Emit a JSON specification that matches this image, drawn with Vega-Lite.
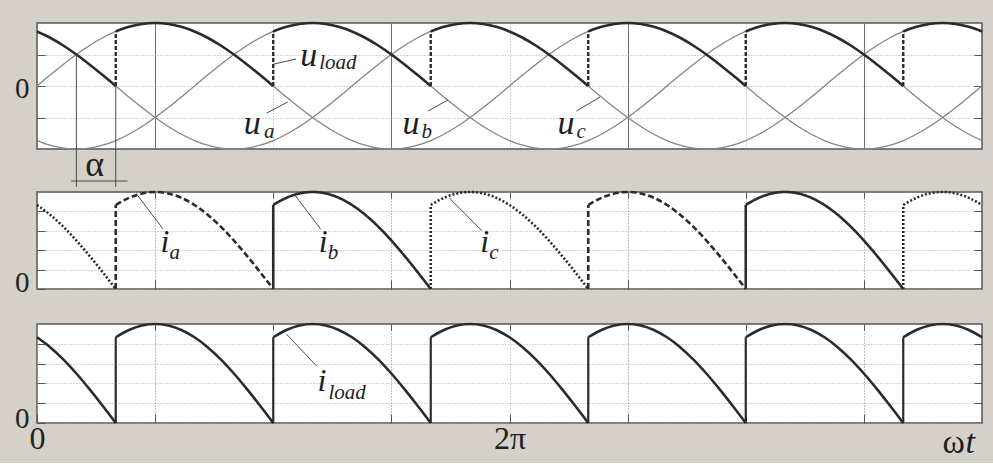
{
  "$schema": "https://vega.github.io/schema/vega-lite/v6.json",
  "background": "#d5d1ca",
  "padding": {"left": 13, "top": 17, "right": 5, "bottom": 2},
  "config": {
    "view": {"stroke": "#555555", "strokeWidth": 1.5, "fill": "#ffffff"},
    "axis": {"domain": false, "title": null, "labelOverlap": false, "labelBound": false},
    "text": {"font": "Liberation Serif"}
  },
  "datasets": {
    "ph": [
      {"t":0,"a":0,"b":-0.866,"c":0.866},{"t":10,"a":0.174,"b":-0.94,"c":0.766},{"t":20,"a":0.342,"b":-0.985,"c":0.643},
      {"t":30,"a":0.5,"b":-1,"c":0.5},{"t":40,"a":0.643,"b":-0.985,"c":0.342},{"t":50,"a":0.766,"b":-0.94,"c":0.174},
      {"t":60,"a":0.866,"b":-0.866,"c":0},{"t":70,"a":0.94,"b":-0.766,"c":-0.174},{"t":80,"a":0.985,"b":-0.643,"c":-0.342},
      {"t":90,"a":1,"b":-0.5,"c":-0.5},{"t":100,"a":0.985,"b":-0.342,"c":-0.643},{"t":110,"a":0.94,"b":-0.174,"c":-0.766},
      {"t":120,"a":0.866,"b":0,"c":-0.866},{"t":130,"a":0.766,"b":0.174,"c":-0.94},{"t":140,"a":0.643,"b":0.342,"c":-0.985},
      {"t":150,"a":0.5,"b":0.5,"c":-1},{"t":160,"a":0.342,"b":0.643,"c":-0.985},{"t":170,"a":0.174,"b":0.766,"c":-0.94},
      {"t":180,"a":0,"b":0.866,"c":-0.866},{"t":190,"a":-0.174,"b":0.94,"c":-0.766},{"t":200,"a":-0.342,"b":0.985,"c":-0.643},
      {"t":210,"a":-0.5,"b":1,"c":-0.5},{"t":220,"a":-0.643,"b":0.985,"c":-0.342},{"t":230,"a":-0.766,"b":0.94,"c":-0.174},
      {"t":240,"a":-0.866,"b":0.866,"c":0},{"t":250,"a":-0.94,"b":0.766,"c":0.174},{"t":260,"a":-0.985,"b":0.643,"c":0.342},
      {"t":270,"a":-1,"b":0.5,"c":0.5},{"t":280,"a":-0.985,"b":0.342,"c":0.643},{"t":290,"a":-0.94,"b":0.174,"c":0.766},
      {"t":300,"a":-0.866,"b":0,"c":0.866},{"t":310,"a":-0.766,"b":-0.174,"c":0.94},{"t":320,"a":-0.643,"b":-0.342,"c":0.985},
      {"t":330,"a":-0.5,"b":-0.5,"c":1},{"t":340,"a":-0.342,"b":-0.643,"c":0.985},{"t":350,"a":-0.174,"b":-0.766,"c":0.94},
      {"t":360,"a":0,"b":-0.866,"c":0.866},{"t":370,"a":0.174,"b":-0.94,"c":0.766},{"t":380,"a":0.342,"b":-0.985,"c":0.643},
      {"t":390,"a":0.5,"b":-1,"c":0.5},{"t":400,"a":0.643,"b":-0.985,"c":0.342},{"t":410,"a":0.766,"b":-0.94,"c":0.174},
      {"t":420,"a":0.866,"b":-0.866,"c":0},{"t":430,"a":0.94,"b":-0.766,"c":-0.174},{"t":440,"a":0.985,"b":-0.643,"c":-0.342},
      {"t":450,"a":1,"b":-0.5,"c":-0.5},{"t":460,"a":0.985,"b":-0.342,"c":-0.643},{"t":470,"a":0.94,"b":-0.174,"c":-0.766},
      {"t":480,"a":0.866,"b":0,"c":-0.866},{"t":490,"a":0.766,"b":0.174,"c":-0.94},{"t":500,"a":0.643,"b":0.342,"c":-0.985},
      {"t":510,"a":0.5,"b":0.5,"c":-1},{"t":520,"a":0.342,"b":0.643,"c":-0.985},{"t":530,"a":0.174,"b":0.766,"c":-0.94},
      {"t":540,"a":0,"b":0.866,"c":-0.866},{"t":550,"a":-0.174,"b":0.94,"c":-0.766},{"t":560,"a":-0.342,"b":0.985,"c":-0.643},
      {"t":570,"a":-0.5,"b":1,"c":-0.5},{"t":580,"a":-0.643,"b":0.985,"c":-0.342},{"t":590,"a":-0.766,"b":0.94,"c":-0.174},
      {"t":600,"a":-0.866,"b":0.866,"c":0},{"t":610,"a":-0.94,"b":0.766,"c":0.174},{"t":620,"a":-0.985,"b":0.643,"c":0.342},
      {"t":630,"a":-1,"b":0.5,"c":0.5},{"t":640,"a":-0.985,"b":0.342,"c":0.643},{"t":650,"a":-0.94,"b":0.174,"c":0.766},
      {"t":660,"a":-0.866,"b":0,"c":0.866},{"t":670,"a":-0.766,"b":-0.174,"c":0.94},{"t":680,"a":-0.643,"b":-0.342,"c":0.985},
      {"t":690,"a":-0.5,"b":-0.5,"c":1},{"t":700,"a":-0.342,"b":-0.643,"c":0.985},{"t":710,"a":-0.174,"b":-0.766,"c":0.94},
      {"t":720,"a":0,"b":-0.866,"c":0.866}
    ],
    "ld": [
      {"t":0,"v":0.866,"p":"c","s":0},{"t":10,"v":0.766,"p":"c","s":0},{"t":20,"v":0.643,"p":"c","s":0},{"t":30,"v":0.5,"p":"c","s":0},
      {"t":40,"v":0.342,"p":"c","s":0},{"t":50,"v":0.174,"p":"c","s":0},{"t":60,"v":0,"p":"c","s":0},
      {"t":60,"v":0.866,"p":"a","s":1},{"t":70,"v":0.94,"p":"a","s":1},{"t":80,"v":0.985,"p":"a","s":1},{"t":90,"v":1,"p":"a","s":1},
      {"t":100,"v":0.985,"p":"a","s":1},{"t":110,"v":0.94,"p":"a","s":1},{"t":120,"v":0.866,"p":"a","s":1},{"t":130,"v":0.766,"p":"a","s":1},
      {"t":140,"v":0.643,"p":"a","s":1},{"t":150,"v":0.5,"p":"a","s":1},{"t":160,"v":0.342,"p":"a","s":1},{"t":170,"v":0.174,"p":"a","s":1},
      {"t":180,"v":0,"p":"a","s":1},
      {"t":180,"v":0.866,"p":"b","s":2},{"t":190,"v":0.94,"p":"b","s":2},{"t":200,"v":0.985,"p":"b","s":2},{"t":210,"v":1,"p":"b","s":2},
      {"t":220,"v":0.985,"p":"b","s":2},{"t":230,"v":0.94,"p":"b","s":2},{"t":240,"v":0.866,"p":"b","s":2},{"t":250,"v":0.766,"p":"b","s":2},
      {"t":260,"v":0.643,"p":"b","s":2},{"t":270,"v":0.5,"p":"b","s":2},{"t":280,"v":0.342,"p":"b","s":2},{"t":290,"v":0.174,"p":"b","s":2},
      {"t":300,"v":0,"p":"b","s":2},
      {"t":300,"v":0.866,"p":"c","s":3},{"t":310,"v":0.94,"p":"c","s":3},{"t":320,"v":0.985,"p":"c","s":3},{"t":330,"v":1,"p":"c","s":3},
      {"t":340,"v":0.985,"p":"c","s":3},{"t":350,"v":0.94,"p":"c","s":3},{"t":360,"v":0.866,"p":"c","s":3},{"t":370,"v":0.766,"p":"c","s":3},
      {"t":380,"v":0.643,"p":"c","s":3},{"t":390,"v":0.5,"p":"c","s":3},{"t":400,"v":0.342,"p":"c","s":3},{"t":410,"v":0.174,"p":"c","s":3},
      {"t":420,"v":0,"p":"c","s":3},
      {"t":420,"v":0.866,"p":"a","s":4},{"t":430,"v":0.94,"p":"a","s":4},{"t":440,"v":0.985,"p":"a","s":4},{"t":450,"v":1,"p":"a","s":4},
      {"t":460,"v":0.985,"p":"a","s":4},{"t":470,"v":0.94,"p":"a","s":4},{"t":480,"v":0.866,"p":"a","s":4},{"t":490,"v":0.766,"p":"a","s":4},
      {"t":500,"v":0.643,"p":"a","s":4},{"t":510,"v":0.5,"p":"a","s":4},{"t":520,"v":0.342,"p":"a","s":4},{"t":530,"v":0.174,"p":"a","s":4},
      {"t":540,"v":0,"p":"a","s":4},
      {"t":540,"v":0.866,"p":"b","s":5},{"t":550,"v":0.94,"p":"b","s":5},{"t":560,"v":0.985,"p":"b","s":5},{"t":570,"v":1,"p":"b","s":5},
      {"t":580,"v":0.985,"p":"b","s":5},{"t":590,"v":0.94,"p":"b","s":5},{"t":600,"v":0.866,"p":"b","s":5},{"t":610,"v":0.766,"p":"b","s":5},
      {"t":620,"v":0.643,"p":"b","s":5},{"t":630,"v":0.5,"p":"b","s":5},{"t":640,"v":0.342,"p":"b","s":5},{"t":650,"v":0.174,"p":"b","s":5},
      {"t":660,"v":0,"p":"b","s":5},
      {"t":660,"v":0.866,"p":"c","s":6},{"t":670,"v":0.94,"p":"c","s":6},{"t":680,"v":0.985,"p":"c","s":6},{"t":690,"v":1,"p":"c","s":6},
      {"t":700,"v":0.985,"p":"c","s":6},{"t":710,"v":0.94,"p":"c","s":6},{"t":720,"v":0.866,"p":"c","s":6}
    ],
    "jp": [
      {"t":60,"p":"a","lo":0,"hi":0.866},{"t":180,"p":"b","lo":0,"hi":0.866},{"t":300,"p":"c","lo":0,"hi":0.866},
      {"t":420,"p":"a","lo":0,"hi":0.866},{"t":540,"p":"b","lo":0,"hi":0.866},{"t":660,"p":"c","lo":0,"hi":0.866}
    ],
    "ln": [
      {"panel":"top","t":180.6,"v":0.349,"t2":197.4,"v2":0.429},
      {"panel":"top","t":175,"v":-0.43,"t2":191,"v2":-0.254},
      {"panel":"top","t":298,"v":-0.397,"t2":313,"v2":-0.222},
      {"panel":"top","t":411,"v":-0.397,"t2":429,"v2":-0.175},
      {"panel":"top","t":30,"v":0.5,"t2":30,"v2":-1.6},
      {"panel":"top","t":60,"v":0,"t2":60,"v2":-1.6},
      {"panel":"top","t":26,"v":-1.508,"t2":69,"v2":-1.508},
      {"panel":"mid","t":77,"v":0.959,"t2":96,"v2":0.619},
      {"panel":"mid","t":197,"v":0.959,"t2":216,"v2":0.619},
      {"panel":"mid","t":314,"v":0.94,"t2":339,"v2":0.6},
      {"panel":"bot","t":190,"v":0.899,"t2":213,"v2":0.576}
    ],
    "nt": [
      {"panel":"top","kind":"main","t":207,"v":0.317,"txt":"u"},
      {"panel":"top","kind":"sub","t":215,"v":0.27,"txt":"load"},
      {"panel":"top","kind":"main","t":164,"v":-0.762,"txt":"u"},
      {"panel":"top","kind":"sub","t":173,"v":-0.825,"txt":"a"},
      {"panel":"top","kind":"main","t":285,"v":-0.762,"txt":"u"},
      {"panel":"top","kind":"sub","t":293,"v":-0.825,"txt":"b"},
      {"panel":"top","kind":"main","t":403,"v":-0.762,"txt":"u"},
      {"panel":"top","kind":"sub","t":411,"v":-0.825,"txt":"c"},
      {"panel":"top","kind":"plain","t":44,"v":-1.43,"txt":"α"},
      {"panel":"mid","kind":"main","t":97.5,"v":0.381,"txt":"i"},
      {"panel":"mid","kind":"sub","t":101,"v":0.309,"txt":"a"},
      {"panel":"mid","kind":"main","t":218,"v":0.381,"txt":"i"},
      {"panel":"mid","kind":"sub","t":221.5,"v":0.309,"txt":"b"},
      {"panel":"mid","kind":"main","t":341,"v":0.381,"txt":"i"},
      {"panel":"mid","kind":"sub","t":344.5,"v":0.309,"txt":"c"},
      {"panel":"bot","kind":"main","t":217,"v":0.323,"txt":"i"},
      {"panel":"bot","kind":"sub","t":222,"v":0.242,"txt":"load"},
      {"panel":"bot","kind":"omega","t":707,"v":-0.3,"txt":"ω"},
      {"panel":"bot","kind":"tee","t":707.5,"v":-0.3,"txt":"t"}
    ]
  },
  "spacing": 43,
  "bounds": "flush",
  "vconcat": [
    {
      "width": 945,
      "height": 126,
      "resolve": {"axis": {"x": "independent", "y": "independent"}},
      "layer": [
        {
          "data": {"name": "ph"},
          "mark": {"type": "line", "interpolate": "monotone", "color": "#858585", "strokeWidth": 1.3},
          "encoding": {
            "x": {"field": "t", "type": "quantitative", "scale": {"domain": [0, 720], "nice": false, "zero": false},
              "axis": {"orient": "bottom", "values": [90, 180, 270, 360, 450, 540, 630], "labels": false, "ticks": false, "grid": true,
                "gridColor": {"condition": {"test": "datum.value % 180 === 90", "value": "#707070"}, "value": "#a8a8a8"},
                "gridDash": {"condition": {"test": "datum.value % 180 === 90", "value": []}, "value": [1, 2]},
                "gridWidth": 1}},
            "y": {"field": "a", "type": "quantitative", "scale": {"domain": [-1, 1], "nice": false, "zero": false},
              "axis": {"orient": "left", "values": [-0.5, 0, 0.5], "grid": true, "gridColor": "#a8a8a8", "gridDash": [1, 2],
                "ticks": true, "tickSize": -8, "tickColor": "#555555", "tickWidth": 1,
                "labelExpr": "datum.value === 0 ? '0' : ''", "labelFont": "Liberation Serif", "labelFontSize": 29,
                "labelColor": "#222222", "labelPadding": 16, "labelOffset": 2}}
          }
        },
        {
          "data": {"name": "ph"},
          "mark": {"type": "line", "interpolate": "monotone", "color": "#858585", "strokeWidth": 1.3},
          "encoding": {
            "x": {"field": "t", "type": "quantitative", "axis": null},
            "y": {"field": "b", "type": "quantitative",
              "axis": {"orient": "right", "values": [-0.5, 0, 0.5], "grid": false, "labels": false, "ticks": true, "tickSize": -8, "tickColor": "#555555", "tickWidth": 1}}
          }
        },
        {
          "data": {"name": "ph"},
          "mark": {"type": "line", "interpolate": "monotone", "color": "#858585", "strokeWidth": 1.3},
          "encoding": {
            "x": {"field": "t", "type": "quantitative", "axis": null},
            "y": {"field": "c", "type": "quantitative", "axis": null}
          }
        },
        {
          "data": {"name": "ld"},
          "mark": {"type": "line", "interpolate": "monotone", "color": "#2b2b2b", "strokeWidth": 2.6},
          "encoding": {
            "x": {"field": "t", "type": "quantitative", "axis": null},
            "y": {"field": "v", "type": "quantitative", "axis": null},
            "detail": {"field": "s", "type": "nominal"}
          }
        },
        {
          "data": {"name": "jp"},
          "mark": {"type": "rule", "color": "#2b2b2b", "strokeWidth": 2.4, "strokeDash": [4, 2]},
          "encoding": {
            "x": {"field": "t", "type": "quantitative", "axis": null},
            "y": {"field": "lo", "type": "quantitative", "axis": null},
            "y2": {"field": "hi"}
          }
        },
        {
          "data": {"name": "ln"},
          "transform": [{"filter": "datum.panel === 'top'"}],
          "mark": {"type": "rule", "color": "#4a4a4a", "strokeWidth": 1},
          "encoding": {
            "x": {"field": "t", "type": "quantitative", "axis": null},
            "x2": {"field": "t2"},
            "y": {"field": "v", "type": "quantitative", "axis": null},
            "y2": {"field": "v2"}
          }
        },
        {
          "data": {"name": "nt"},
          "transform": [{"filter": "datum.panel === 'top' && datum.kind === 'main'"}],
          "mark": {"type": "text", "font": "Liberation Serif", "fontStyle": "italic", "fontSize": 34, "align": "center", "baseline": "alphabetic", "color": "#1e1e1e"},
          "encoding": {
            "x": {"field": "t", "type": "quantitative", "axis": null},
            "y": {"field": "v", "type": "quantitative", "axis": null},
            "text": {"field": "txt"}
          }
        },
        {
          "data": {"name": "nt"},
          "transform": [{"filter": "datum.panel === 'top' && datum.kind === 'sub'"}],
          "mark": {"type": "text", "font": "Liberation Serif", "fontStyle": "italic", "fontSize": 21, "align": "left", "baseline": "alphabetic", "color": "#1e1e1e"},
          "encoding": {
            "x": {"field": "t", "type": "quantitative", "axis": null},
            "y": {"field": "v", "type": "quantitative", "axis": null},
            "text": {"field": "txt"}
          }
        },
        {
          "data": {"name": "nt"},
          "transform": [{"filter": "datum.panel === 'top' && datum.kind === 'plain'"}],
          "mark": {"type": "text", "font": "Liberation Serif", "fontSize": 36, "align": "center", "baseline": "alphabetic", "color": "#1e1e1e"},
          "encoding": {
            "x": {"field": "t", "type": "quantitative", "axis": null},
            "y": {"field": "v", "type": "quantitative", "axis": null},
            "text": {"field": "txt"}
          }
        }
      ]
    },
    {
      "spacing": 35,
      "bounds": "flush",
      "vconcat": [
        {
          "width": 945,
          "height": 97,
          "resolve": {"axis": {"x": "independent", "y": "independent"}},
          "layer": [
            {
              "data": {"name": "ld"},
              "mark": {"type": "line", "interpolate": "monotone", "color": "#2b2b2b"},
              "encoding": {
                "x": {"field": "t", "type": "quantitative", "scale": {"domain": [0, 720], "nice": false, "zero": false},
                  "axis": {"orient": "bottom", "values": [90, 180, 270, 360, 450, 540, 630], "labels": false, "ticks": true, "tickSize": -9, "tickColor": "#555555", "tickWidth": 1,
                    "grid": true, "gridColor": {"condition": {"test": "datum.value % 180 === 90", "value": "#7a7a7a"}, "value": "#a8a8a8"}, "gridDash": [1, 2]}},
                "y": {"field": "v", "type": "quantitative", "scale": {"domain": [0, 1], "nice": false, "zero": false},
                  "axis": {"orient": "left", "values": [0, 0.2, 0.4, 0.6, 0.8], "grid": true, "gridColor": "#a8a8a8", "gridDash": [1, 2],
                    "ticks": true, "tickSize": -8, "tickColor": "#555555", "tickWidth": 1,
                    "labelExpr": "datum.value === 0 ? '0' : ''", "labelFont": "Liberation Serif", "labelFontSize": 29,
                    "labelColor": "#222222", "labelPadding": 16, "labelOffset": -7}},
                "detail": {"field": "s", "type": "nominal"},
                "strokeDash": {"field": "p", "type": "nominal", "scale": {"domain": ["a", "b", "c"], "range": [[6, 3], [1, 0], [2, 2]]}, "legend": null},
                "strokeWidth": {"field": "p", "type": "nominal", "scale": {"domain": ["a", "b", "c"], "range": [2.6, 2.6, 2.1]}, "legend": null}
              }
            },
            {
              "data": {"name": "jp"},
              "mark": {"type": "rule", "color": "#2b2b2b"},
              "encoding": {
                "x": {"field": "t", "type": "quantitative",
                  "axis": {"orient": "top", "values": [90, 180, 270, 360, 450, 540, 630], "labels": false, "grid": false, "ticks": true, "tickSize": -6, "tickColor": "#555555", "tickWidth": 1}},
                "y": {"field": "lo", "type": "quantitative",
                  "axis": {"orient": "right", "values": [0.2, 0.4, 0.6, 0.8], "grid": false, "labels": false, "ticks": true, "tickSize": -8, "tickColor": "#555555", "tickWidth": 1}},
                "y2": {"field": "hi"},
                "strokeDash": {"field": "p", "type": "nominal", "scale": {"domain": ["a", "b", "c"], "range": [[6, 3], [1, 0], [2, 2]]}, "legend": null},
                "strokeWidth": {"field": "p", "type": "nominal", "scale": {"domain": ["a", "b", "c"], "range": [2.6, 2.6, 2.1]}, "legend": null}
              }
            },
            {
              "data": {"name": "ln"},
              "transform": [{"filter": "datum.panel === 'mid'"}],
              "mark": {"type": "rule", "color": "#4a4a4a", "strokeWidth": 1},
              "encoding": {
                "x": {"field": "t", "type": "quantitative", "axis": null},
                "x2": {"field": "t2"},
                "y": {"field": "v", "type": "quantitative", "axis": null},
                "y2": {"field": "v2"}
              }
            },
            {
              "data": {"name": "nt"},
              "transform": [{"filter": "datum.panel === 'mid' && datum.kind === 'main'"}],
              "mark": {"type": "text", "font": "Liberation Serif", "fontStyle": "italic", "fontSize": 32, "align": "center", "baseline": "alphabetic", "color": "#1e1e1e"},
              "encoding": {
                "x": {"field": "t", "type": "quantitative", "axis": null},
                "y": {"field": "v", "type": "quantitative", "axis": null},
                "text": {"field": "txt"}
              }
            },
            {
              "data": {"name": "nt"},
              "transform": [{"filter": "datum.panel === 'mid' && datum.kind === 'sub'"}],
              "mark": {"type": "text", "font": "Liberation Serif", "fontStyle": "italic", "fontSize": 21, "align": "left", "baseline": "alphabetic", "color": "#1e1e1e"},
              "encoding": {
                "x": {"field": "t", "type": "quantitative", "axis": null},
                "y": {"field": "v", "type": "quantitative", "axis": null},
                "text": {"field": "txt"}
              }
            }
          ]
        },
        {
          "width": 945,
          "height": 99,
          "resolve": {"axis": {"x": "independent", "y": "independent"}},
          "layer": [
            {
              "data": {"name": "ld"},
              "mark": {"type": "line", "interpolate": "monotone", "color": "#2b2b2b", "strokeWidth": 2.6},
              "encoding": {
                "x": {"field": "t", "type": "quantitative", "scale": {"domain": [0, 720], "nice": false, "zero": false},
                  "axis": {"orient": "bottom", "values": [0, 90, 180, 270, 360, 450, 540, 630], "ticks": true, "tickSize": -9, "tickColor": "#555555", "tickWidth": 1,
                    "grid": true, "gridColor": {"condition": {"test": "datum.value % 180 === 90", "value": "#7a7a7a"}, "value": "#a8a8a8"}, "gridDash": [1, 2],
                    "labelExpr": "datum.value === 0 ? '0' : datum.value === 360 ? '2π' : ''", "labelFlush": false,
                    "labelFont": "Liberation Serif", "labelFontSize": 32, "labelColor": "#222222", "labelPadding": 9}},
                "y": {"field": "v", "type": "quantitative", "scale": {"domain": [0, 1], "nice": false, "zero": false},
                  "axis": {"orient": "left", "values": [0, 0.2, 0.4, 0.6, 0.8], "grid": true, "gridColor": "#a8a8a8", "gridDash": [1, 2],
                    "ticks": true, "tickSize": -8, "tickColor": "#555555", "tickWidth": 1,
                    "labelExpr": "datum.value === 0 ? '0' : ''", "labelFont": "Liberation Serif", "labelFontSize": 29,
                    "labelColor": "#222222", "labelPadding": 16, "labelOffset": -5}},
                "detail": {"field": "s", "type": "nominal"}
              }
            },
            {
              "data": {"name": "jp"},
              "mark": {"type": "rule", "color": "#2b2b2b", "strokeWidth": 2.2},
              "encoding": {
                "x": {"field": "t", "type": "quantitative",
                  "axis": {"orient": "top", "values": [90, 180, 270, 360, 450, 540, 630], "labels": false, "grid": false, "ticks": true, "tickSize": -6, "tickColor": "#555555", "tickWidth": 1}},
                "y": {"field": "lo", "type": "quantitative",
                  "axis": {"orient": "right", "values": [0.2, 0.4, 0.6, 0.8], "grid": false, "labels": false, "ticks": true, "tickSize": -8, "tickColor": "#555555", "tickWidth": 1}},
                "y2": {"field": "hi"}
              }
            },
            {
              "data": {"name": "ln"},
              "transform": [{"filter": "datum.panel === 'bot'"}],
              "mark": {"type": "rule", "color": "#4a4a4a", "strokeWidth": 1},
              "encoding": {
                "x": {"field": "t", "type": "quantitative", "axis": null},
                "x2": {"field": "t2"},
                "y": {"field": "v", "type": "quantitative", "axis": null},
                "y2": {"field": "v2"}
              }
            },
            {
              "data": {"name": "nt"},
              "transform": [{"filter": "datum.panel === 'bot' && datum.kind === 'main'"}],
              "mark": {"type": "text", "font": "Liberation Serif", "fontStyle": "italic", "fontSize": 32, "align": "center", "baseline": "alphabetic", "color": "#1e1e1e"},
              "encoding": {
                "x": {"field": "t", "type": "quantitative", "axis": null},
                "y": {"field": "v", "type": "quantitative", "axis": null},
                "text": {"field": "txt"}
              }
            },
            {
              "data": {"name": "nt"},
              "transform": [{"filter": "datum.panel === 'bot' && datum.kind === 'sub'"}],
              "mark": {"type": "text", "font": "Liberation Serif", "fontStyle": "italic", "fontSize": 21, "align": "left", "baseline": "alphabetic", "color": "#1e1e1e"},
              "encoding": {
                "x": {"field": "t", "type": "quantitative", "axis": null},
                "y": {"field": "v", "type": "quantitative", "axis": null},
                "text": {"field": "txt"}
              }
            },
            {
              "data": {"name": "nt"},
              "transform": [{"filter": "datum.panel === 'bot' && datum.kind === 'omega'"}],
              "mark": {"type": "text", "font": "Liberation Serif", "fontSize": 34, "align": "right", "baseline": "alphabetic", "color": "#1e1e1e"},
              "encoding": {
                "x": {"field": "t", "type": "quantitative", "axis": null},
                "y": {"field": "v", "type": "quantitative", "axis": null},
                "text": {"field": "txt"}
              }
            },
            {
              "data": {"name": "nt"},
              "transform": [{"filter": "datum.panel === 'bot' && datum.kind === 'tee'"}],
              "mark": {"type": "text", "font": "Liberation Serif", "fontStyle": "italic", "fontSize": 34, "align": "left", "baseline": "alphabetic", "color": "#1e1e1e"},
              "encoding": {
                "x": {"field": "t", "type": "quantitative", "axis": null},
                "y": {"field": "v", "type": "quantitative", "axis": null},
                "text": {"field": "txt"}
              }
            }
          ]
        }
      ]
    }
  ]
}
